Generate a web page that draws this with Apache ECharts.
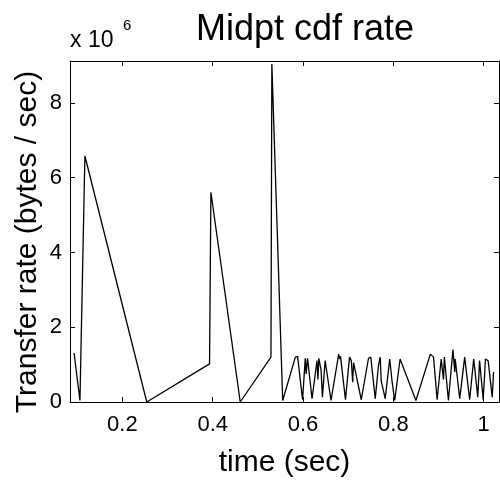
<!DOCTYPE html>
<html>
<head>
<meta charset="utf-8">
<script src="https://cdn.jsdelivr.net/npm/echarts@6/dist/echarts.min.js"></script>
<style>
html,body{margin:0;padding:0;background:#fff;}
#chart{width:500px;height:483px;}
</style>
</head>
<body>
<div id="chart"></div>
<script>
// time (sec)
var times = [0.093,0.106,0.117,0.254,0.393,0.396,0.461,0.529,0.531,0.555,
  0.583,0.588,0.599,
  0.605,0.607,0.610,0.614,0.620,
  0.631,0.633,0.635,0.638,0.640,0.643,
  0.649,0.662,
  0.679,0.681,0.683,0.694,
  0.703,0.705,0.707,0.710,0.712,0.729,
  0.745,0.750,0.760,
  0.767,0.771,0.773,0.782,
  0.792,0.795,0.797,0.799,0.803,
  0.815,0.850,
  0.882,0.889,0.897,
  0.906,0.908,0.911,0.913,0.922,
  0.932,0.936,0.937,0.947,
  0.958,0.960,0.969,
  0.978,0.980,0.987,
  0.991,0.999,
  1.004,1.010,1.019,1.022];
// transfer rate, in units of 10^6 bytes/sec
var rates = [1.31,0.04,6.58,0.00,1.02,5.61,0.00,1.20,9.04,0.04,
  1.20,1.22,0.06,
  1.17,0.75,1.17,1.15,0.09,
  1.11,0.60,1.17,1.20,0.85,0.13,
  1.11,0.04,
  1.28,1.15,1.22,0.06,
  1.20,1.15,1.10,0.53,1.05,0.06,
  1.17,1.20,0.09,
  0.97,1.20,0.57,0.09,
  1.15,1.10,0.57,0.60,0.04,
  1.15,0.04,
  1.28,1.20,0.06,
  1.15,1.10,0.60,1.20,0.04,
  1.40,0.80,1.15,0.09,
  1.20,1.15,0.06,
  1.15,1.10,0.13,
  1.11,0.06,
  1.15,1.10,0.13,0.80];
var xTicks = [0.2,0.4,0.6,0.8,1.0];
var yTicks = [0,2,4,6,8];
var xRange = [0.084,1.034];
var yRange = [0,9.12];
var titleText = 'Midpt cdf rate';
var xLabel = 'time (sec)';
var yLabel = 'Transfer rate (bytes / sec)';

var pts = times.map(function(t,i){return [t, rates[i]];});
var FONT = 'Liberation Sans, Arial, Helvetica, sans-serif';
var chart = echarts.init(document.getElementById('chart'), null, {renderer:'canvas'});

function axisBase(extra){
  var base = {
    type:'value',
    axisLine:{show:true, onZero:false, lineStyle:{color:'#000', width:1}},
    axisTick:{show:true, inside:true, length:5, lineStyle:{color:'#000', width:1}},
    splitLine:{show:false},
    axisLabel:{show:false}
  };
  for (var k in extra) base[k] = extra[k];
  return base;
}

chart.setOption({
  animation:false,
  backgroundColor:'#fff',
  title:{text:titleText, left:300, textAlign:'center', top:7,
    textStyle:{fontFamily:FONT, fontSize:36, fontWeight:'normal', color:'#000'}},
  grid:{left:70, right:1, top:61, bottom:80, containLabel:false},
  xAxis:[
    axisBase({position:'bottom', min:xRange[0], max:xRange[1],
      axisTick:{show:true, inside:true, length:5, customValues:xTicks, lineStyle:{color:'#000'}},
      axisLabel:{show:true, customValues:xTicks, margin:12, color:'#000', fontFamily:FONT, fontSize:22,
        formatter:function(v){return String(Math.round(v*10)/10);}},
      name:xLabel, nameLocation:'middle', nameGap:46,
      nameTextStyle:{fontFamily:FONT, fontSize:30, color:'#000'}}),
    axisBase({position:'top', min:xRange[0], max:xRange[1],
      axisTick:{show:true, inside:true, length:5, customValues:xTicks, lineStyle:{color:'#000'}}})
  ],
  yAxis:[
    axisBase({position:'left', min:yRange[0], max:yRange[1],
      axisTick:{show:true, inside:true, length:5, customValues:yTicks, lineStyle:{color:'#000'}},
      axisLabel:{show:true, customValues:yTicks, margin:8, color:'#000', fontFamily:FONT, fontSize:22}}),
    axisBase({position:'right', min:yRange[0], max:yRange[1],
      axisTick:{show:true, inside:true, length:5, customValues:yTicks, lineStyle:{color:'#000'}}})
  ],
  graphic:[
    {type:'text', left:70, top:29, style:{text:'x 10', font:'23px ' + FONT, fill:'#000'}},
    {type:'text', left:123, top:18, style:{text:'6', font:'15px ' + FONT, fill:'#000'}},
    {type:'text', x:28, y:242, rotation:Math.PI/2,
      style:{text:yLabel, font:'30px ' + FONT, fill:'#000', align:'center', verticalAlign:'middle'}}
  ],
  series:[{
    type:'line', data:pts, xAxisIndex:0, yAxisIndex:0,
    showSymbol:false, symbol:'none',
    lineStyle:{color:'#000', width:1.3}
  }]
});
</script>
</body>
</html>
